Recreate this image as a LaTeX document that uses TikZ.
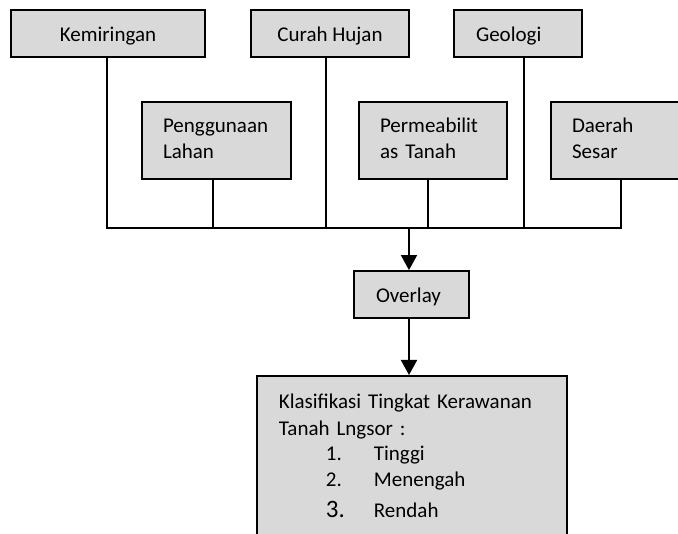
\documentclass[tikz,border=0pt]{standalone}
\usepackage{fontspec}
\setmainfont{Carlito}
\usetikzlibrary{arrows.meta}
\definecolor{boxgray}{HTML}{D9D9D9}
\tikzset{
  box/.style={draw=black, fill=boxgray, line width=1.8pt, rectangle,
    font=\fontsize{21}{26}\selectfont, minimum height=47pt,
    text height=21pt, text depth=4pt},
  leftbox/.style={box, align=left, inner xsep=22pt},
  twobox/.style={box, align=left, minimum height=77pt, inner xsep=21pt,
    text height=15pt, text depth=30pt},
  conn/.style={line width=1.8pt, line cap=rect},
  arr/.style={line width=1.8pt, -{Triangle[width=16pt,length=15pt]}}
}
\begin{document}
\begin{tikzpicture}[x=1pt,y=-1pt]
\useasboundingbox (0,0) rectangle (678,534);
\clip (0,0) rectangle (678,534);
% top row
\node[box, minimum width=194pt] (kem) at (108,33.5) {Kemiringan};
\node[box, minimum width=158pt] (cur) at (330,33.5) {Curah Hujan};
\node[leftbox, minimum width=128pt, text width=84pt] (geo) at (518,33.5) {Geologi};
% second row
\node[twobox, minimum width=149pt, text width=107pt] (pen) at (216.5,140.5) {Penggunaan\\Lahan};
\node[twobox, minimum width=148pt, text width=106pt] (per) at (433,140.5) {Permeabilit\\as Tanah};
\node[twobox, minimum width=140pt, text width=98pt] (ses) at (621,140.5) {Daerah\\Sesar};
% overlay
\node[leftbox, minimum width=115pt, text width=71pt] (ov) at (411.5,294.5) {Overlay};
% classification
\node[box, anchor=north west, align=left, minimum width=310pt, minimum height=165pt,
  inner xsep=22pt, inner ysep=0pt, text width=266pt,
  text height=33pt, text depth=132pt] (kl) at (256,375)
  {Klasifikasi Tingkat Kerawanan\\[1pt]
   Tanah Lngsor :\\[-1pt]
   \hspace*{47pt}\makebox[48pt][l]{1.}Tinggi\\
   \hspace*{47pt}\makebox[48pt][l]{2.}Menengah\\[5pt]
   \hspace*{47pt}\makebox[48pt][l]{\fontsize{25}{26}\selectfont 3.}Rendah};
% bus
\coordinate (b1) at (107,228);
\coordinate (b2) at (213,228);
\coordinate (b3) at (326,228);
\coordinate (b4) at (428,228);
\coordinate (b5) at (524,228);
\coordinate (b6) at (621,228);
\coordinate (bus) at (409,228);
\draw[conn] (b1 |- kem.south) -- (b1);
\draw[conn] (b2 |- pen.south) -- (b2);
\draw[conn] (b3 |- cur.south) -- (b3);
\draw[conn] (b4 |- per.south) -- (b4);
\draw[conn] (b5 |- geo.south) -- (b5);
\draw[conn] (b6 |- ses.south) -- (b6);
\draw[conn] (b1) -- (b6);
\draw[arr] (bus) -- (bus |- ov.north);
\draw[arr] (bus |- ov.south) -- (bus |- kl.north);
\end{tikzpicture}
\end{document}
